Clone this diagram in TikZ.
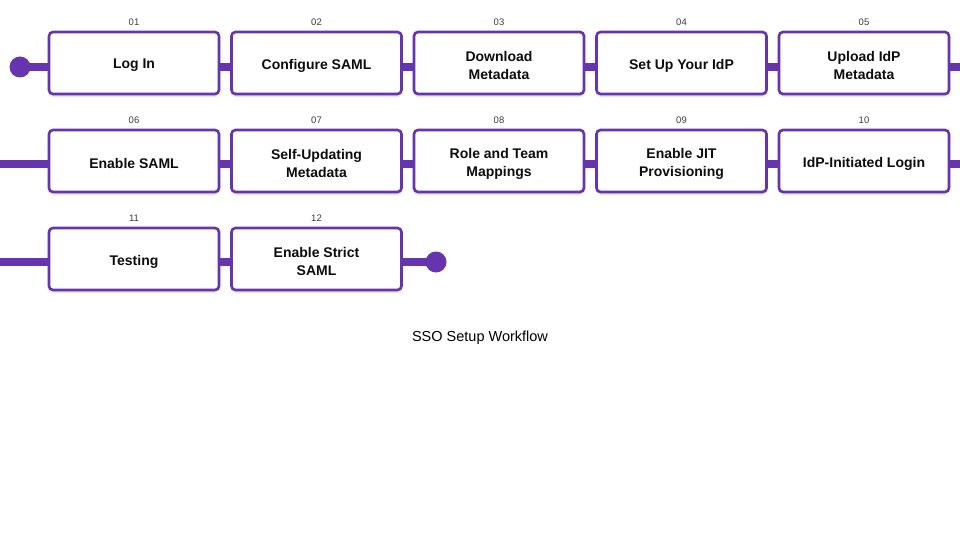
\documentclass[tikz,border=0pt]{standalone}
\usepackage{fontspec}
\setmainfont{Liberation Sans}
\usetikzlibrary{shadows.blur}
\definecolor{pp}{RGB}{103,52,176}
\definecolor{numgray}{RGB}{60,60,60}
\tikzset{
  stepbox/.style={draw=pp, line width=2.6pt, rounded corners=4pt, fill=white,
    minimum width=170pt, minimum height=62pt, inner sep=0pt,
    blur shadow={shadow blur steps=6, shadow xshift=0pt, shadow yshift=-2pt, shadow opacity=18}},
  steptext/.style={align=center, inner sep=0pt,
    font=\fontsize{14}{18}\selectfont\bfseries, text=black!95},
  numlbl/.style={font=\fontsize{9.5}{11}\selectfont, text=numgray, inner sep=0pt},
  conn/.style={pp, line width=8pt},
  dot/.style={circle, fill=pp, minimum size=21pt, inner sep=0pt}
}
\begin{document}
\begin{tikzpicture}[x=1pt,y=-1pt]
\useasboundingbox (0,0) rectangle (960,540);
% boxes
\foreach \i/\x/\y in {1/134/63,2/316.5/63,3/499/63,4/681.5/63,5/864/63,
                      6/134/161,7/316.5/161,8/499/161,9/681.5/161,10/864/161,
                      11/134/259,12/316.5/259}{
  \node[stepbox] (b\i) at (\x,\y) {};
}
% texts
\foreach \i/\t in {1/{Log In},2/{Configure SAML},3/{Download\\Metadata},4/{Set Up Your IdP},
                   5/{Upload IdP\\Metadata},6/{Enable SAML},7/{Self-Updating\\Metadata},
                   8/{Role and Team\\Mappings},9/{Enable JIT\\Provisioning},10/{IdP-Initiated Login},
                   11/{Testing},12/{Enable Strict\\SAML}}{
  \node[steptext] (t\i) at ([yshift=-2.5pt]b\i.center) {\t};
}
% numbers
\foreach \i/\n in {1/01,2/02,3/03,4/04,5/05,6/06,7/07,8/08,9/09,10/10,11/11,12/12}{
  \node[numlbl, anchor=base] (n\i) at ([yshift=5.5pt]b\i.north) {\n};
}
% dots and edge coordinates
\node[dot] (start) at (20,67) {};
\node[dot] (stop) at (436,262) {};
\coordinate (r1end) at (960,67);
\coordinate (r2start) at (0,164);
\coordinate (r2end) at (960,164);
\coordinate (r3start) at (0,262);
% connectors
\draw[conn] (start.center) -- ([yshift=-4pt]b1.west);
\draw[conn] ([yshift=-4pt]b1.east) -- ([yshift=-4pt]b2.west);
\draw[conn] ([yshift=-4pt]b2.east) -- ([yshift=-4pt]b3.west);
\draw[conn] ([yshift=-4pt]b3.east) -- ([yshift=-4pt]b4.west);
\draw[conn] ([yshift=-4pt]b4.east) -- ([yshift=-4pt]b5.west);
\draw[conn] ([yshift=-4pt]b5.east) -- (r1end);
\draw[conn] (r2start) -- ([yshift=-3pt]b6.west);
\draw[conn] ([yshift=-3pt]b6.east) -- ([yshift=-3pt]b7.west);
\draw[conn] ([yshift=-3pt]b7.east) -- ([yshift=-3pt]b8.west);
\draw[conn] ([yshift=-3pt]b8.east) -- ([yshift=-3pt]b9.west);
\draw[conn] ([yshift=-3pt]b9.east) -- ([yshift=-3pt]b10.west);
\draw[conn] ([yshift=-3pt]b10.east) -- (r2end);
\draw[conn] (r3start) -- ([yshift=-3pt]b11.west);
\draw[conn] ([yshift=-3pt]b11.east) -- ([yshift=-3pt]b12.west);
\draw[conn] ([yshift=-3pt]b12.east) -- (stop.center);
\node[font=\fontsize{14.5}{17}\selectfont, text=black] (title) at (480,338) {SSO Setup Workflow};
\end{tikzpicture}
\end{document}
